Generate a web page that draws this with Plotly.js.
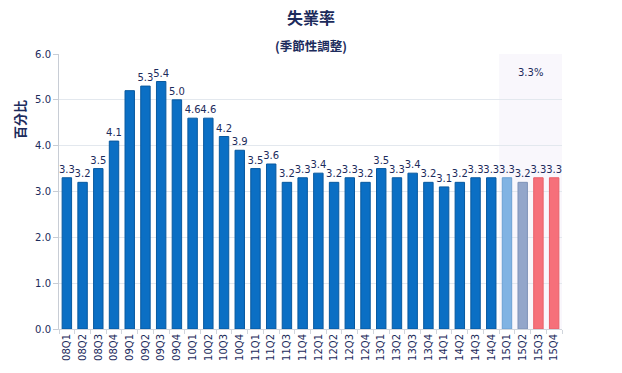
<!DOCTYPE html>
<html>
<head>
<meta charset="utf-8">
<script src="https://cdn.plot.ly/plotly-3.0.1.min.js"></script>
<style>html,body{margin:0;padding:0;background:#fff;}#chart{width:622px;height:373px;}</style>
</head>
<body>
<div id="chart"></div>
<script>
const quarters = ["08Q1","08Q2","08Q3","08Q4","09Q1","09Q2","09Q3","09Q4","10Q1","10Q2","10Q3","10Q4","11Q1","11Q2","11Q3","11Q4","12Q1","12Q2","12Q3","12Q4","13Q1","13Q2","13Q3","13Q4","14Q1","14Q2","14Q3","14Q4","15Q1","15Q2","15Q3","15Q4"];
const rates = [3.3,3.2,3.5,4.1,5.2,5.3,5.4,5.0,4.6,4.6,4.2,3.9,3.5,3.6,3.2,3.3,3.4,3.2,3.3,3.2,3.5,3.3,3.4,3.2,3.1,3.2,3.3,3.3,3.3,3.2,3.3,3.3];
const hiddenLabels = ["09Q1"];
const forecastNote = "3.3%";
const yTicks = [0,1,2,3,4,5,6];

const navy = "#1c2b5c";
const barColors = quarters.map(q => q === "15Q1" ? "#80b3e3" : q === "15Q2" ? "#93a6ca" : (q === "15Q3" || q === "15Q4") ? "#f6707a" : "#0b6fc4");
const barLines = quarters.map(q => q === "15Q1" ? "#6a9fd3" : q === "15Q2" ? "#7f93b8" : (q === "15Q3" || q === "15Q4") ? "#e8606a" : "#08599f");
const labels = quarters.map((q,i) => hiddenLabels.includes(q) ? "" : rates[i].toFixed(1));

const trace = {
  type: "bar",
  x: quarters,
  y: rates,
  text: labels,
  textposition: "outside",
  constraintext: "none",
  textfont: {family: "DejaVu Sans, Verdana, sans-serif", size: 10, color: navy},
  outsidetextfont: {family: "DejaVu Sans, Verdana, sans-serif", size: 10, color: navy},
  cliponaxis: false,
  marker: {color: barColors, line: {color: barLines, width: 1}},
  hoverinfo: "x+y"
};

const layout = {
  width: 622, height: 373,
  margin: {l: 59, r: 60, t: 54, b: 44},
  paper_bgcolor: "#fff", plot_bgcolor: "#fff",
  showlegend: false,
  bargap: 0.4,
  title: {text: "<b>失業率</b>", x: 0.5, xanchor: "center", y: 0.952, yanchor: "middle",
          font: {family: "Noto Sans CJK TC, Noto Sans CJK SC, sans-serif", size: 16, color: navy}},
  xaxis: {
    type: "category",
    range: [-0.5, quarters.length - 0.5],
    tickangle: -90,
    tickfont: {family: "DejaVu Sans, Verdana, sans-serif", size: 10, color: navy},
    ticks: "outside", tickson: "boundaries", ticklen: 4, tickcolor: "#d0d5dc",
    showline: true, linecolor: "#d0d5dc", linewidth: 1,
    showgrid: false, zeroline: false, fixedrange: true
  },
  yaxis: {
    range: [0, 6],
    tickvals: yTicks,
    ticktext: yTicks.map(v => v.toFixed(1)),
    tickfont: {family: "DejaVu Sans, Verdana, sans-serif", size: 10, color: navy},
    ticks: "outside", ticklen: 5, tickcolor: "#c8cdd5",
    showline: true, linecolor: "#c8cdd5", linewidth: 1,
    showgrid: true, gridcolor: "#e3e8ee", zeroline: false, fixedrange: true
  },
  shapes: [{
    type: "rect", xref: "x", yref: "paper", layer: "below",
    x0: 27.5, x1: 31.5, y0: 0, y1: 1,
    fillcolor: "#f9f7fc", line: {width: 0}
  }],
  annotations: [
    {text: "<b>(季節性調整)</b>", xref: "paper", yref: "paper", x: 0.5, y: 1, yshift: 9, xanchor: "center", yanchor: "middle",
     showarrow: false, font: {family: "Noto Sans CJK TC, Noto Sans CJK SC, sans-serif", size: 12.5, color: navy}},
    {text: "<b>百分比</b>", xref: "paper", yref: "paper", x: 0, xshift: -40, y: 0.76, textangle: -90,
     xanchor: "center", yanchor: "middle", showarrow: false,
     font: {family: "Noto Sans CJK TC, Noto Sans CJK SC, sans-serif", size: 13, color: navy}},
    {text: forecastNote, xref: "x", yref: "y", x: 29.5, y: 5.6, showarrow: false,
     font: {family: "DejaVu Sans, Verdana, sans-serif", size: 10, color: navy}}
  ]
};

Plotly.newPlot("chart", [trace], layout, {displayModeBar: false, staticPlot: true});
</script>
</body>
</html>
